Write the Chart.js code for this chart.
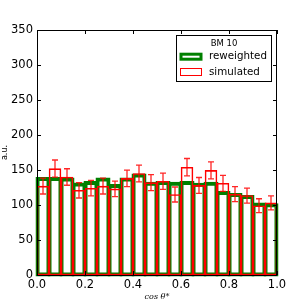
<!DOCTYPE html>
<html>
<head>
<meta charset="utf-8">
<script src="https://cdn.jsdelivr.net/npm/chart.js@4.4.1/dist/chart.umd.min.js"></script>
<style>
  html, body { margin: 0; padding: 0; background: #fff; }
  #wrap { width: 307px; height: 307px; position: relative; }
</style>
</head>
<body>
<div id="wrap"><canvas id="hist"></canvas></div>
<script>
// bin centres of cos theta* (20 bins of 0.05)
const binCenters = [0.025, 0.075, 0.125, 0.175, 0.225, 0.275, 0.325, 0.375, 0.425, 0.475,
                    0.525, 0.575, 0.625, 0.675, 0.725, 0.775, 0.825, 0.875, 0.925, 0.975];
const reweighted = [138, 138, 137, 130, 132, 137, 128, 137, 143, 131,
                    132, 131, 132, 129.5, 131, 118, 115, 112, 101.5, 100.5];
const simulated = [127, 152, 140, 121, 124, 127, 123, 138, 145, 132,
                   134, 115, 154, 128, 149.5, 131, 115.5, 113.5, 99, 103];
const simErrors = [11.3, 12.3, 11.8, 11, 11.1, 11.3, 11.1, 11.7, 12, 11.5,
                   11.6, 10.7, 12.4, 11.3, 12.2, 11.4, 10.7, 10.7, 9.9, 10.1];
const xTicks = [0, 0.2, 0.4, 0.6, 0.8, 1.0];
const yTicks = [0, 50, 100, 150, 200, 250, 300, 350];
const legendTitle = 'BM 10';
const seriesNames = ['reweighted', 'simulated'];

const fontSans = '"DejaVu Sans", sans-serif';

const toPoints = (vals) => vals.map((v, i) => ({x: binCenters[i], y: v}));

// red error bars on top of the bars
var errorBars = {
    id: 'errorBars',
    afterDatasetsDraw(chart) {
        const {ctx, scales: {x, y}} = chart;
        ctx.save();
        ctx.strokeStyle = 'rgba(255,0,0,0.85)';
        ctx.lineWidth = 1.3;
        simulated.forEach((v, i) => {
            const px = x.getPixelForValue(binCenters[i]);
            const top = y.getPixelForValue(v + simErrors[i]);
            const bot = y.getPixelForValue(v - simErrors[i]);
            ctx.beginPath();
            ctx.moveTo(px, top); ctx.lineTo(px, bot);
            ctx.moveTo(px - 3, top); ctx.lineTo(px + 3, top);
            ctx.moveTo(px - 3, bot); ctx.lineTo(px + 3, bot);
            ctx.stroke();
        });
        ctx.restore();
    }
};

// frame, inward ticks on all four sides, legend box
var frame = {
    id: 'frame',
    afterDraw(chart) {
        const {ctx, chartArea: {left, right, top, bottom}, scales: {x, y}} = chart;
        ctx.save();
        ctx.strokeStyle = '#000';
        ctx.lineWidth = 1;
        ctx.strokeRect(left + 0.5, top + 0.5, right - left - 1, bottom - top);

        ctx.beginPath();
        xTicks.forEach(t => {
            const px = Math.round(x.getPixelForValue(t)) + 0.5;
            ctx.moveTo(px, bottom); ctx.lineTo(px, bottom - 4);
            ctx.moveTo(px, top); ctx.lineTo(px, top + 4);
        });
        yTicks.forEach(t => {
            const py = Math.round(y.getPixelForValue(t)) + 0.5;
            ctx.moveTo(left, py); ctx.lineTo(left + 4, py);
            ctx.moveTo(right, py); ctx.lineTo(right - 4, py);
        });
        ctx.stroke();

        // legend
        ctx.fillStyle = '#fff';
        ctx.fillRect(176.5, 35.5, 95, 46);
        ctx.strokeStyle = '#000';
        ctx.strokeRect(176.5, 35.5, 95, 46);

        ctx.fillStyle = '#000';
        ctx.textBaseline = 'middle';
        ctx.textAlign = 'center';
        ctx.font = '8.5px ' + fontSans;
        ctx.fillText(legendTitle, 224, 43.5);

        ctx.textAlign = 'left';
        ctx.font = '10.3px ' + fontSans;
        ctx.strokeStyle = '#008000';
        ctx.lineWidth = 3;
        ctx.strokeRect(181, 54.2, 20, 5);
        ctx.fillText(seriesNames[0], 209, 56.5);

        ctx.strokeStyle = '#ff0000';
        ctx.lineWidth = 1;
        ctx.strokeRect(180.5, 68.5, 21, 7);
        ctx.fillText(seriesNames[1], 209, 72);
        ctx.restore();
    }
};

var options = {
    responsive: true,
    maintainAspectRatio: false,
    animation: false,
    layout: {
        padding: {left: 0, right: 30, top: 30, bottom: 0}
    },
    plugins: {
        legend: {display: false},
        tooltip: {enabled: false}
    },
    scales: {
        x: {
            type: 'linear',
            min: 0,
            max: 1,
            offset: false,
            afterFit: (scale) => { scale.height = 32; },
            afterBuildTicks: (scale) => { scale.ticks = xTicks.map(v => ({value: v})); },
            grid: {display: false, offset: false, drawTicks: false},
            border: {display: false},
            ticks: {
                color: '#000',
                padding: 3,
                maxRotation: 0,
                font: {family: fontSans, size: 11.5},
                callback: (v) => v.toFixed(1)
            },
            title: {
                display: true,
                text: 'cos θ*',
                color: '#000',
                padding: {top: 0, bottom: 5.5},
                font: {family: '"DejaVu Serif", serif', size: 8, style: 'italic'}
            }
        },
        y: {
            type: 'linear',
            min: 0,
            max: 350,
            afterFit: (scale) => { scale.width = 37; },
            afterBuildTicks: (scale) => { scale.ticks = yTicks.map(v => ({value: v})); },
            grid: {display: false, drawTicks: false},
            border: {display: false},
            ticks: {
                color: '#000',
                padding: 4,
                font: {family: fontSans, size: 11.5}
            },
            title: {
                display: true,
                text: 'a.u.',
                color: '#000',
                padding: {top: 0, bottom: 0},
                font: {family: fontSans, size: 8}
            }
        }
    }
};

var config = {
    type: 'bar',
    data: {
        datasets: [{
            label: seriesNames[1],
            data: toPoints(simulated),
            backgroundColor: 'rgba(0,0,0,0)',
            borderColor: '#ff0000',
            borderWidth: 1,
            borderSkipped: false,
            inflateAmount: 0.3,
            grouped: false,
            barPercentage: 1,
            categoryPercentage: 1,
            clip: false,
            order: 0
        }, {
            label: seriesNames[0],
            data: toPoints(reweighted),
            backgroundColor: 'rgba(0,0,0,0)',
            borderColor: '#008000',
            borderWidth: 1,
            borderSkipped: false,
            inflateAmount: 1.5,
            grouped: false,
            barPercentage: 1,
            categoryPercentage: 1,
            clip: false,
            order: 1
        }]
    },
    options: options,
    plugins: [errorBars, frame]
};

new Chart(document.getElementById('hist'), config);
</script>
</body>
</html>
